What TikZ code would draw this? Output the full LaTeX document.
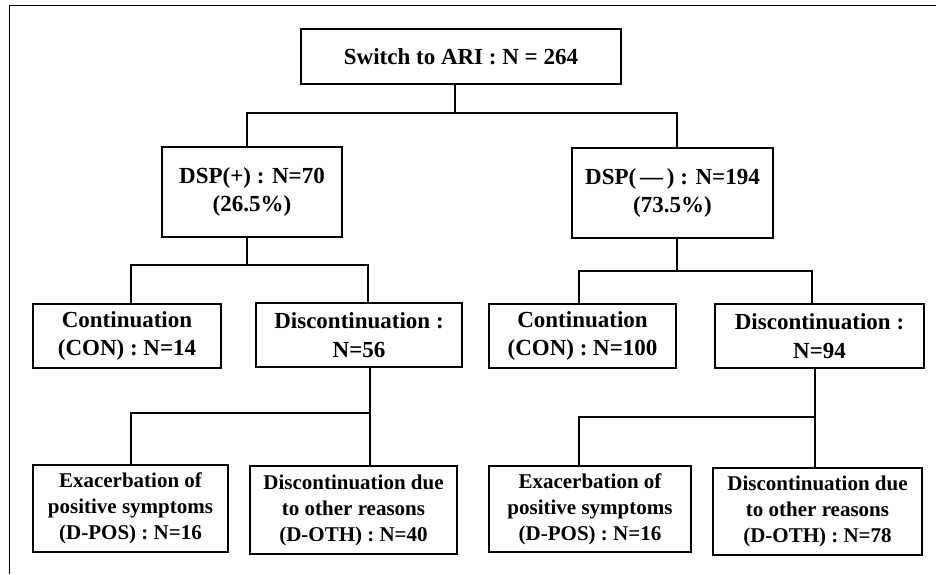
\documentclass[tikz,border=0pt]{standalone}
\usepackage{fontspec}
\setmainfont{Liberation Serif}
\begin{document}
\begin{tikzpicture}[x=1pt,y=-1pt,
  box/.style={draw=black,line width=1.6pt,inner sep=0pt,align=center,font=\bfseries\fontsize{23}{28.5}\selectfont},
  smallbox/.style={box,font=\bfseries\fontsize{21}{26}\selectfont},
  link/.style={line width=2.6pt}]
\useasboundingbox (0,0) rectangle (936,574);
% frame (left and top edges visible)
\draw[line width=1pt] (9,574) -- (9,5) -- (936,5);
% boxes
\node[box,minimum width=320,minimum height=55] (top) at (461,56.5) {Switch to ARI : N = 264};
\node[box,minimum width=180,minimum height=90] (dp) at (252,192) {DSP(+) : N=70\\(26.5\%)};
\node[box,minimum width=201,minimum height=90] (dm) at (672.5,193) {DSP(\,—\,) : N=194\\(73.5\%)};
\node[box,minimum width=188,minimum height=64] (conL) at (127,336) {Continuation\\(CON) : N=14};
\node[box,minimum width=206,minimum height=64] (disL) at (359,335) {Discontinuation :\\N=56};
\node[box,minimum width=187,minimum height=64] (conR) at (582.5,336) {Continuation\\(CON) : N=100};
\node[box,minimum width=209,minimum height=64] (disR) at (819.5,336) {Discontinuation :\\N=94};
\node[smallbox,minimum width=195,minimum height=87] (posL) at (130.5,508.5) {Exacerbation of\\positive symptoms\\(D-POS) : N=16};
\node[smallbox,minimum width=207,minimum height=88] (othL) at (353.5,510) {Discontinuation due\\to other reasons\\(D-OTH) : N=40};
\node[smallbox,minimum width=202,minimum height=86] (posR) at (590,509) {Exacerbation of\\positive symptoms\\(D-POS) : N=16};
\node[smallbox,minimum width=209,minimum height=87] (othR) at (817.5,511.5) {Discontinuation due\\to other reasons\\(D-OTH) : N=78};
% junction coordinates
\coordinate (j0) at (455,113);
\coordinate (j0a) at (247,113);
\coordinate (j0b) at (677,113);
\coordinate (j1) at (247,265);
\coordinate (j1a) at (131,265);
\coordinate (j1b) at (368,265);
\coordinate (j2) at (677,271);
\coordinate (j2a) at (579,271);
\coordinate (j2b) at (812,271);
\coordinate (j3) at (370,413);
\coordinate (j3a) at (131,413);
\coordinate (j4) at (815,417);
\coordinate (j4a) at (579,417);
% connectors
\draw[link] (top.south -| j0) -- (j0);
\draw[link] (dp.north -| j0a) -- (j0a) -- (j0b) -- (dm.north -| j0b);
\draw[link] (dp.south -| j1) -- (j1);
\draw[link] (conL.north -| j1a) -- (j1a) -- (j1b) -- (disL.north -| j1b);
\draw[link] (dm.south -| j2) -- (j2);
\draw[link] (conR.north -| j2a) -- (j2a) -- (j2b) -- (disR.north -| j2b);
\draw[link] (disL.south -| j3) -- (othL.north -| j3);
\draw[link] (posL.north -| j3a) -- (j3a) -- (j3);
\draw[link] (disR.south -| j4) -- (othR.north -| j4);
\draw[link] (posR.north -| j4a) -- (j4a) -- (j4);
\end{tikzpicture}
\end{document}
